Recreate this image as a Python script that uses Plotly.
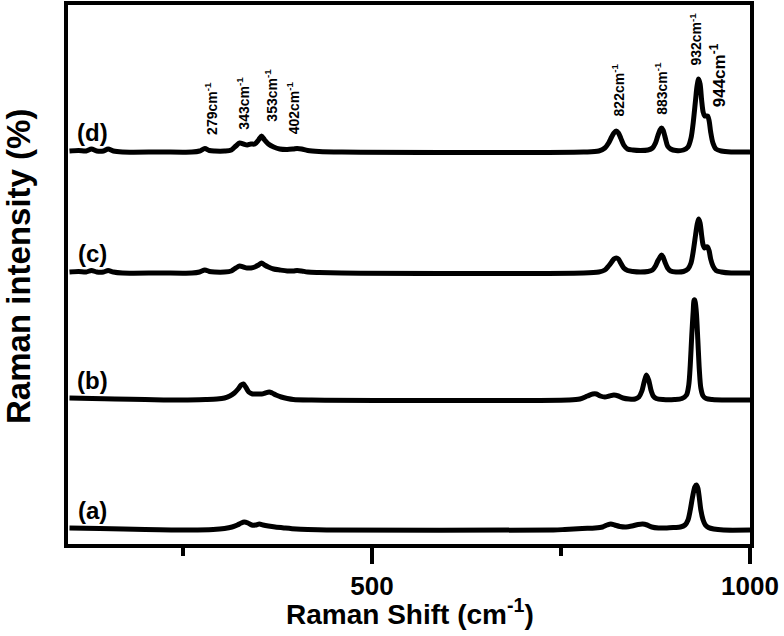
import plotly.graph_objects as go

# ---------------- data ----------------
wn_d = [100, 112, 122, 129, 136, 145, 151, 158, 170, 220, 262, 272, 279, 285, 292, 305, 314, 320, 325, 330,
        335, 340, 345, 350, 354, 358, 363, 370, 378, 388, 396, 401, 407, 415, 430, 460, 780, 800, 808, 813,
        817, 820, 823, 826, 829, 833, 838, 845, 855, 865, 871, 875, 878, 881, 883, 885, 888, 891, 895, 902,
        912, 918, 922, 925, 928, 930, 932, 934, 936, 938, 940, 942, 944, 946, 948, 951, 955, 962, 975, 1000]
int_d = [1, 1.5, 1, 3, 1, 1, 3, 1, 0, 0, 0, 1, 3.5, 1.5, 1, 1, 2, 6, 9, 8,
         7, 8, 8, 12, 16, 12, 8, 5, 3, 2.5, 3, 3.5, 3, 1.5, 0.5, 0, 0, 1, 4, 9,
         15, 19, 21, 19, 14, 7, 3, 2, 1.5, 2, 4, 9, 16, 22, 24, 22, 14, 6, 3, 1.5,
         2, 5, 14, 30, 52, 66, 73, 68, 52, 40, 36, 36, 36, 31, 20, 9, 3, 1, 0, 0]

wn_c = wn_d
int_c = [1, 1.5, 1, 2.5, 1, 1, 2.5, 1, 0, 0, 0, 1, 3, 1.5, 1, 1, 2, 5, 7, 6,
         5, 5, 6, 8, 10, 8, 6, 4, 3, 2, 2, 2.5, 2, 1, 0.5, 0, 0, 1, 3, 7,
         11, 14, 15, 14, 10, 5, 2.5, 1.5, 1, 1.5, 3, 7, 12, 16, 18, 16, 10, 5, 2, 1,
         1.5, 4, 10, 22, 38, 48, 54, 50, 38, 28, 25, 26, 26, 22, 14, 7, 2.5, 1, 0, 0]

wn_b = [100, 130, 160, 200, 250, 280, 295, 305, 312, 318, 323, 327, 330, 333, 337, 342, 348, 354, 359, 364,
        368, 373, 380, 388, 396, 420, 760, 775, 785, 792, 797, 802, 808, 814, 820, 826, 832, 840, 848, 853,
        857, 860, 863, 866, 869, 872, 876, 885, 900, 910, 916, 919, 921, 923, 925, 926, 927, 929, 931, 933,
        935, 938, 942, 950, 970, 1000]
int_b = [2, 1.5, 1, 0.5, 0, 0.5, 1, 2, 4, 7, 11, 15, 16, 13, 8, 6, 6, 6, 7, 8,
         7, 5, 3, 1.5, 0.5, 0, 0, 1, 4, 6, 6, 4, 3, 4, 5, 4, 2, 1, 1, 3,
         9, 18, 25, 20, 10, 4, 1.5, 0.5, 0.5, 1.5, 5, 15, 35, 65, 90, 100, 100, 88, 60, 30,
         12, 4, 1.5, 0.5, 0, 0]

wn_a = [100, 140, 200, 260, 290, 305, 315, 322, 327, 331, 336, 341, 346, 351, 356, 363, 372, 385, 400, 415,
        440, 740, 755, 778, 795, 805, 811, 816, 821, 828, 836, 844, 852, 858, 864, 870, 879, 890, 900, 908,
        914, 918, 921, 924, 927, 929, 931, 933, 935, 938, 941, 945, 952, 965, 1000]
int_a = [2, 1.5, 0.5, 0, 0.5, 1.5, 3, 5, 7, 8, 7, 5, 5, 6, 5, 4, 3, 2, 1, 0.5,
         0, 0, 0.5, 1.5, 2, 3, 5, 6, 5, 3.5, 3, 4, 5.5, 6, 5, 3, 2, 2, 2.5, 3,
         5, 10, 20, 33, 43, 45, 42, 32, 20, 10, 5, 2.5, 1, 0, 0]

series_labels = ["(a)", "(b)", "(c)", "(d)"]
peak_labels = ["279cm<sup>-1</sup>", "343cm<sup>-1</sup>", "353cm<sup>-1</sup>", "402cm<sup>-1</sup>",
               "822cm<sup>-1</sup>", "883cm<sup>-1</sup>", "932cm<sup>-1</sup>", "944cm<sup>-1</sup>"]
x_tick_vals = [500, 1000]
x_tick_text = ["500", "1000"]
x_title = "Raman Shift (cm<sup>-1</sup>)"
y_title = "Raman intensity (%)"

# ---------------- layout / styling ----------------
offsets = {"(a)": 14, "(b)": 144, "(c)": 271, "(d)": 392}
spectra = {"(a)": (wn_a, int_a), "(b)": (wn_b, int_b), "(c)": (wn_c, int_c), "(d)": (wn_d, int_d)}

FONT = "Liberation Sans, Arial, sans-serif"
fig = go.Figure()
for name in series_labels:
    wx, wy = spectra[name]
    off = offsets[name]
    fig.add_trace(go.Scatter(
        x=wx, y=[v + off for v in wy], mode="lines", name=name,
        line=dict(color="black", width=5, shape="spline", smoothing=0.8),
        showlegend=False, hoverinfo="skip"))

annotations = []
for name in series_labels:
    annotations.append(dict(x=130, y=offsets[name] + 20, xref="x", yref="y", text="<b>%s</b>" % name,
                            showarrow=False, font=dict(family=FONT, size=24, color="black"),
                            xanchor="center", yanchor="middle"))

peak_pos = [(287, 436, 14), (329, 441, 14), (366, 449, 14), (396, 436, 14),
            (826, 454, 14), (882, 456, 14), (928, 505, 14), (958, 469, 17)]
for txt, (px, py, fs) in zip(peak_labels, peak_pos):
    annotations.append(dict(x=px, y=py, xref="x", yref="y", text="<b>%s</b>" % txt, textangle=-90,
                            showarrow=False, font=dict(family=FONT, size=fs, color="black"),
                            xanchor="center", yanchor="middle"))

# axis titles
annotations.append(dict(x=0.5015, y=-0.126, xref="paper", yref="paper", text="<b>%s</b>" % x_title,
                        showarrow=False, font=dict(family=FONT, size=28, color="black"),
                        xanchor="center", yanchor="middle"))
annotations.append(dict(x=-0.0718, y=0.514, xref="paper", yref="paper", text="<b>%s</b>" % y_title,
                        textangle=-90, showarrow=False, font=dict(family=FONT, size=33, color="black"),
                        xanchor="center", yanchor="middle"))

fig.update_layout(
    width=784, height=636,
    margin=dict(l=68, r=34, t=5, b=92, autoexpand=False),
    paper_bgcolor="white", plot_bgcolor="white",
    annotations=annotations,
    font=dict(family=FONT, color="black"),
)
fig.update_xaxes(
    range=[98, 1000], showgrid=False, zeroline=False, automargin=False,
    showline=True, linecolor="black", linewidth=4, mirror=True,
    ticks="outside", ticklen=16, tickwidth=4, tickcolor="black",
    tickvals=x_tick_vals, ticktext=x_tick_text,
    tickfont=dict(family=FONT, size=26, color="black", weight="bold"),
    minor=dict(tickvals=[250, 750], ticks="outside", ticklen=8, tickwidth=4, tickcolor="black"),
)
fig.update_yaxes(
    range=[0, 539], showgrid=False, zeroline=False, automargin=False,
    showline=True, linecolor="black", linewidth=4, mirror=True,
    ticks="", showticklabels=False,
)

fig.write_html("out.html", config={"displayModeBar": False},
               post_script="document.body.style.margin='0';document.body.style.overflow='hidden';")
